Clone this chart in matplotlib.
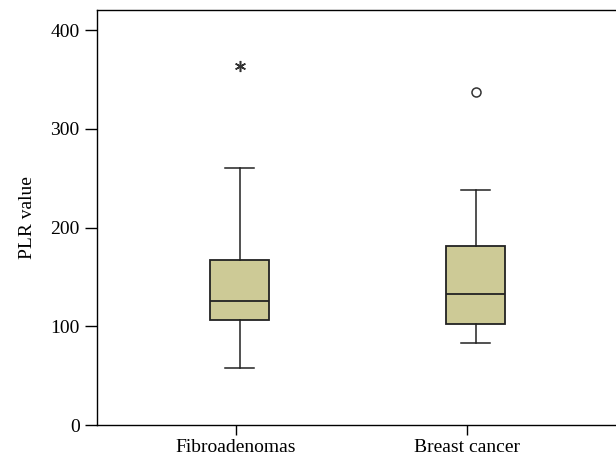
import matplotlib
matplotlib.use("Agg")
import matplotlib.pyplot as plt

categories = ["Fibroadenomas", "Breast cancer"]
whislo = [58, 83]
q1 = [106.5, 102]
med = [126, 132.5]
q3 = [167.5, 181]
whishi = [260, 238]
fliers = [[364], [337]]
flier_markers = [(6, 2, 0), "o"]

plt.rcParams['font.family'] = ['Liberation Serif', 'DejaVu Serif']

fig = plt.figure(figsize=(6.16, 4.61), dpi=100)
ax = fig.add_axes([97/616, (461-425)/461, (616-97)/616 + 0.01, (425-10.5)/461])

stats = []
for i, c in enumerate(categories):
    stats.append(dict(label=c, whislo=whislo[i], q1=q1[i], med=med[i], q3=q3[i],
                      whishi=whishi[i], fliers=[]))
positions = [1, 2]
ax.bxp(stats, positions=positions, widths=0.25, patch_artist=True,
       boxprops=dict(facecolor="#CDCA96", edgecolor="#222222", linewidth=1.3),
       medianprops=dict(color="#222222", linewidth=1.3),
       whiskerprops=dict(color="#222222", linewidth=1.1),
       capprops=dict(color="#222222", linewidth=1.1),
       capwidths=0.12)
for i, f in enumerate(fliers):
    ax.plot([positions[i]] * len(f), f, linestyle="none", marker=flier_markers[i],
            markersize=8 if i == 0 else 6.5,
            markerfacecolor="none",
            markeredgecolor="#333333", markeredgewidth=1.1)

ax.set_xlim(1 - (239-97)/235, 2 + (620-474)/235)
ax.set_ylim(0, 420)
ax.set_yticks([0, 100, 200, 300, 400])
ax.set_xticks([1 - 4/235, 2 - 9/235])
ax.set_xticklabels(categories)
ax.tick_params(axis="both", labelsize=14, direction="out", length=9, width=1)
ax.tick_params(axis="x", length=7, pad=3)
ax.set_ylabel("PLR value", fontsize=14, labelpad=10)
for s in ax.spines.values():
    s.set_linewidth(1.0)

fig.savefig("out.png", dpi=100)
